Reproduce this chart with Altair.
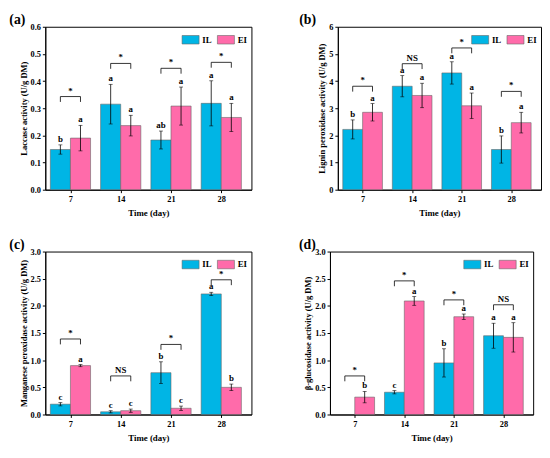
import altair as alt
import pandas as pd

FONT = "Liberation Serif"
COLORS = ["#00B5E5", "#FF6BAA"]
GROUPS = ["IL", "EI"]

days = [7, 14, 21, 28]

# (a) Laccase
lac_il = [0.148, 0.315, 0.183, 0.318]
lac_il_err = [0.017, 0.073, 0.033, 0.083]
lac_ei = [0.190, 0.236, 0.308, 0.266]
lac_ei_err = [0.047, 0.038, 0.070, 0.052]
lac_il_let = ["b", "a", "ab", "a"]
lac_ei_let = ["a", "a", "a", "a"]
lac_sig = ["*", "*", "*", "*"]
lac_sig_y = [0.343, 0.465, 0.447, 0.469]

# (b) Lignin peroxidase
lip_il = [2.22, 3.81, 4.30, 1.48]
lip_il_err = [0.35, 0.39, 0.41, 0.50]
lip_ei = [2.85, 3.47, 3.09, 2.47]
lip_ei_err = [0.32, 0.45, 0.47, 0.38]
lip_il_let = ["b", "a", "a", "b"]
lip_ei_let = ["a", "a", "a", "a"]
lip_sig = ["*", "NS", "*", "*"]
lip_sig_y = [3.81, 4.64, 5.22, 3.62]

# (c) Manganese peroxidase
mnp_il = [0.19, 0.05, 0.77, 2.22]
mnp_il_err = [0.03, 0.02, 0.20, 0.03]
mnp_ei = [0.90, 0.07, 0.115, 0.50]
mnp_ei_err = [0.02, 0.03, 0.04, 0.06]
mnp_il_let = ["c", "c", "b", "a"]
mnp_ei_let = ["a", "c", "c", "b"]
mnp_sig = ["*", "NS", "*", "*"]
mnp_sig_y = [1.39, 0.71, 1.29, 2.48]

# (d) beta-glucosidase
glu_il = [0.0, 0.41, 0.95, 1.45]
glu_il_err = [0.0, 0.03, 0.26, 0.23]
glu_ei = [0.32, 2.09, 1.80, 1.42]
glu_ei_err = [0.105, 0.08, 0.05, 0.27]
glu_il_let = ["", "c", "b", "a"]
glu_ei_let = ["b", "a", "a", "a"]
glu_sig = ["*", "*", "*", "NS"]
glu_sig_y = [0.71, 2.46, 2.11, 2.02]

H = 166

AXIS_STYLE = dict(
    grid=False, domainColor="black", tickColor="black", tickSize=3,
    domainWidth=1, labelFont=FONT, labelFontWeight="bold", labelFontSize=8.5,
    labelColor="black", titleFont=FONT, titleFontWeight="bold",
    titleColor="black", labelPadding=2, labelOverlap=False,
)


def panel(tag, tag_dx, width, ytitle, ymax, yvals, fmt, il, il_err, ei,
          ei_err, il_let, ei_let, sig, sig_y):
    rows = []
    for i, d in enumerate(days):
        k = i + 1
        rows.append(dict(day=d, group="IL", x0=k - 0.4, x1=k, xc=k - 0.2,
                         v=il[i], e=il_err[i], let=il_let[i]))
        rows.append(dict(day=d, group="EI", x0=k, x1=k + 0.4, xc=k + 0.2,
                         v=ei[i], e=ei_err[i], let=ei_let[i]))
    df = pd.DataFrame(rows)
    df["lo"] = df["v"] - df["e"]
    df["hi"] = df["v"] + df["e"]

    depth = ymax * 0.033
    br = pd.DataFrame(dict(idx=[1, 2, 3, 4], sig=sig, y=sig_y))
    br["l"] = br["idx"] - 0.2
    br["r"] = br["idx"] + 0.2
    br["yd"] = br["y"] - depth

    xs = alt.Scale(domain=[0.5, 4.6], nice=False, zero=False)
    ys = alt.Scale(domain=[0, ymax], nice=False, zero=True)
    xaxis = alt.Axis(values=[1, 2, 3, 4], title="Time (day)",
                     labelExpr="['7','14','21','28'][datum.value-1]",
                     titlePadding=6, titleFontSize=9, **AXIS_STYLE)
    yaxis = alt.Axis(values=yvals, format=fmt, title=ytitle, titlePadding=2,
                     titleFontSize=8.6, **AXIS_STYLE)

    def X(f):
        return alt.X(f, scale=xs, axis=xaxis)

    def Y(f):
        return alt.Y(f, scale=ys, axis=yaxis)

    base = alt.Chart(df)
    bars = base.transform_filter("datum.v > 0").mark_bar(
        stroke="#666666", strokeWidth=0.6, opacity=1
    ).encode(
        x=X("x0:Q"),
        x2="x1:Q",
        y=Y("v:Q"),
        y2=alt.datum(0),
        color=alt.Color(
            "group:N",
            scale=alt.Scale(domain=GROUPS, range=COLORS),
            legend=alt.Legend(
                orient="top-right", direction="horizontal", title=None,
                symbolType="M-1,-0.5H1V0.5H-1Z", symbolSize=300,
                symbolStrokeColor="#666666", symbolStrokeWidth=0.6,
                symbolOpacity=1, labelFont=FONT, labelFontWeight="bold",
                labelFontSize=9, labelColor="black", offset=4,
                columnPadding=4, labelOffset=3, padding=0,
            ),
        ),
    )
    eb = base.transform_filter("datum.e > 0")
    err = eb.mark_rule(color="black", strokeWidth=0.8).encode(
        x=X("xc:Q"), y=Y("lo:Q"), y2="hi:Q")
    cap_hi = eb.mark_tick(orient="horizontal", size=4, thickness=0.8,
                          color="black").encode(x=X("xc:Q"), y=Y("hi:Q"))
    cap_lo = eb.mark_tick(orient="horizontal", size=4, thickness=0.8,
                          color="black").encode(x=X("xc:Q"), y=Y("lo:Q"))
    lets = base.mark_text(baseline="bottom", dy=-1, font=FONT,
                          fontWeight="bold", fontSize=9,
                          color="black").encode(x=X("xc:Q"), y=Y("hi:Q"),
                                                text="let:N")

    bb = alt.Chart(br)
    hline = bb.mark_rule(color="black", strokeWidth=0.8).encode(
        x=X("l:Q"), x2="r:Q", y=Y("y:Q"))
    lleg = bb.mark_rule(color="black", strokeWidth=0.8).encode(
        x=X("l:Q"), y=Y("yd:Q"), y2="y:Q")
    rleg = bb.mark_rule(color="black", strokeWidth=0.8).encode(
        x=X("r:Q"), y=Y("yd:Q"), y2="y:Q")
    stxt = bb.mark_text(baseline="bottom", dy=-1, font=FONT,
                        fontWeight="bold", fontSize=9,
                        color="black").encode(x=X("idx:Q"), y=Y("y:Q"),
                                              text="sig:N")

    return alt.layer(bars, err, cap_hi, cap_lo, lets, hline, lleg, rleg,
                     stxt).properties(
        width=width, height=H,
        title=alt.TitleParams(tag, anchor="start", frame="bounds",
                              font=FONT, fontWeight="bold", fontSize=14,
                              offset=-4, dx=tag_dx, color="black"),
    )


pa = panel("(a)", -10, 210, "Laccase activity (U/g DM)", 0.6,
           [0, 0.1, 0.2, 0.3, 0.4, 0.5, 0.6], ".1f",
           lac_il, lac_il_err, lac_ei, lac_ei_err, lac_il_let, lac_ei_let,
           lac_sig, lac_sig_y)
pb = panel("(b)", -19, 207, "Lignin peroxidase activity (U/g DM)", 6,
           [0, 1, 2, 3, 4, 5, 6], "d",
           lip_il, lip_il_err, lip_ei, lip_ei_err, lip_il_let, lip_ei_let,
           lip_sig, lip_sig_y)
pc = panel("(c)", -10, 210, "Manganese peroxidase activity (U/g DM)", 3.0,
           [0, 0.5, 1.0, 1.5, 2.0, 2.5, 3.0], ".1f",
           mnp_il, mnp_il_err, mnp_ei, mnp_ei_err, mnp_il_let, mnp_ei_let,
           mnp_sig, mnp_sig_y)
pd_ = panel("(d)", -5, 207, "β-glucosidase activity (U/g DM)", 3.0,
            [0, 0.5, 1.0, 1.5, 2.0, 2.5, 3.0], ".1f",
            glu_il, glu_il_err, glu_ei, glu_ei_err, glu_il_let, glu_ei_let,
            glu_sig, glu_sig_y)

top = alt.hconcat(pa, pb, spacing=47).resolve_scale(color="independent")
bot = alt.hconcat(pc, pd_, spacing=46).resolve_scale(color="independent")

chart = alt.vconcat(top, bot, spacing=19).resolve_scale(
    color="independent"
).properties(
    background="white",
    padding={"left": 0, "top": 0, "right": 0, "bottom": 0},
).configure_view(
    stroke="black", strokeWidth=1
).configure_axis(
    labelOverlap=False
)

chart.save("out.html", embed_options={"renderer": "svg", "actions": False})
